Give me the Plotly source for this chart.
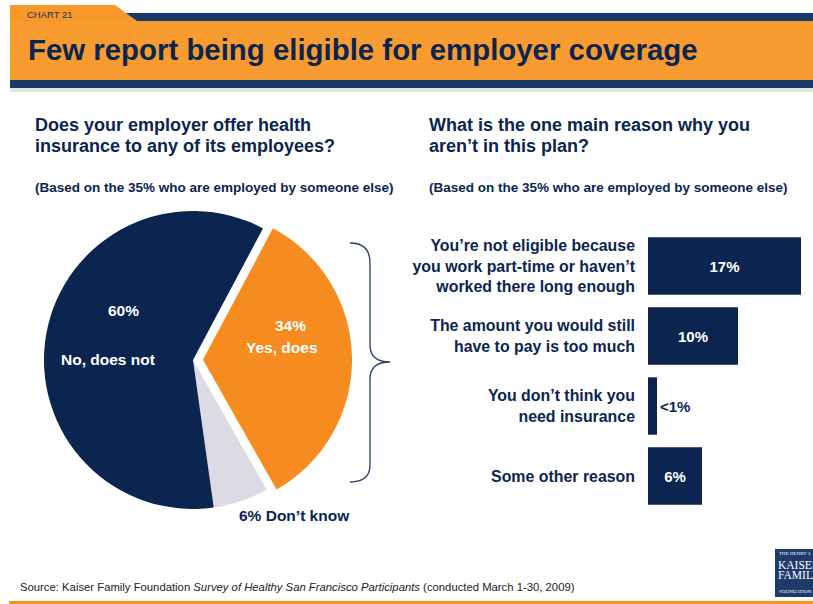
import plotly.graph_objects as go

W, H = 813, 604

# ---------------- data ----------------
pie_labels = ["Yes, does", "Don’t know", "No, does not"]
pie_values = [34, 6, 60]
pie_colors = ["#F68B1F", "#DCDBE3", "#0B2550"]

reason_labels = [
    "You’re not eligible because<br>you work part-time or haven’t<br>worked there long enough",
    "The amount you would still<br>have to pay is too much",
    "You don’t think you<br>need insurance",
    "Some other reason",
]
reason_values = [17, 10, 1, 6]
reason_text = ["17%", "10%", "&lt;1%", "6%"]

title = "Few report being eligible for employer coverage"
left_q = ["Does your employer offer health", "insurance to any of its employees?"]
right_q = ["What is the one main reason why you", "aren’t in this plan?"]
base_note = "(Based on the 35% who are employed by someone else)"
source = ("Source: Kaiser Family Foundation <i>Survey of Healthy San Francisco Participants</i> "
          "(conducted March 1-30, 2009)")

# ---------------- style ----------------
NAVY = "#0B2550"
HDR_NAVY = "#173B66"
ORANGE_BAND = "#F8982A"
FONT = "Liberation Sans, Arial, sans-serif"


def px(x):
    return x / W


def py(y):
    return 1 - y / H


def path(points_cmds):
    out = []
    for cmd, *pts in points_cmds:
        coords = " ".join(f"{px(pts[i]):.5f},{py(pts[i+1]):.5f}" for i in range(0, len(pts), 2))
        out.append(f"{cmd} {coords}")
    return " ".join(out)


fig = go.Figure()

# pie
fig.add_trace(go.Pie(
    labels=pie_labels, values=pie_values, sort=False, direction="clockwise",
    rotation=28, pull=[0.067, 0, 0],
    marker=dict(colors=pie_colors, line=dict(width=0)),
    textinfo="none", hoverinfo="label+percent", showlegend=False,
    domain=dict(x=[px(193 - 159), px(193 + 159)], y=[py(360 + 159), py(360 - 159)]),
))

# bars
fig.add_trace(go.Bar(
    x=reason_values, y=reason_labels, orientation="h",
    marker=dict(color=NAVY, line=dict(width=0)),
    width=0.82,
    text=reason_text, textposition=["inside", "inside", "outside", "inside"],
    insidetextanchor="middle", textangle=0, constraintext="none",
    insidetextfont=dict(family=FONT, size=15, color="white", weight="bold"),
    outsidetextfont=dict(family=FONT, size=15, color=NAVY, weight="bold"),
    cliponaxis=False, showlegend=False, hoverinfo="x+y",
))

shapes = []
# header: navy top strip, orange band with tab, navy bottom strip, shadow
shapes.append(dict(type="rect", xref="paper", yref="paper", x0=px(120), x1=px(813),
                   y0=py(21), y1=py(13), fillcolor=HDR_NAVY, line=dict(width=0), layer="below"))
shapes.append(dict(type="path", xref="paper", yref="paper",
                   path=path([("M", 10, 5), ("L", 115, 5), ("L", 137, 21), ("L", 813, 21),
                              ("L", 813, 80), ("L", 10, 80)]) + " Z",
                   fillcolor=ORANGE_BAND, line=dict(width=0), layer="below"))
for yy in range(23, 80, 3):
    shapes.append(dict(type="line", xref="paper", yref="paper", x0=px(10), x1=px(813),
                       y0=py(yy), y1=py(yy), line=dict(color="rgba(255,255,255,0.10)", width=1),
                       layer="below"))
shapes.append(dict(type="rect", xref="paper", yref="paper", x0=px(10), x1=px(813),
                   y0=py(88), y1=py(80), fillcolor=HDR_NAVY, line=dict(width=0), layer="below"))
shapes.append(dict(type="rect", xref="paper", yref="paper", x0=px(10), x1=px(813),
                   y0=py(92), y1=py(88), fillcolor="#E4E4E6", line=dict(width=0), layer="below"))
# bottom orange rule
shapes.append(dict(type="rect", xref="paper", yref="paper", x0=px(9), x1=px(813),
                   y0=py(604), y1=py(601), fillcolor="#F7941D", line=dict(width=0), layer="below"))
# logo block
shapes.append(dict(type="rect", xref="paper", yref="paper", x0=px(775), x1=px(813),
                   y0=py(597), y1=py(549), fillcolor="#1F3B6B", line=dict(width=0), layer="below"))
# brace
shapes.append(dict(type="path", xref="paper", yref="paper",
                   path=path([("M", 350, 243), ("Q", 370, 243, 370, 263), ("L", 370, 345),
                              ("Q", 370, 362, 390, 362), ("Q", 370, 362, 370, 379),
                              ("L", 370, 465), ("Q", 370, 482, 350, 482)]),
                   line=dict(color="#2B3F66", width=1.3)))

ann = []


def text(x, y, s, size, color=NAVY, bold=True, xanchor="left", family=FONT):
    ann.append(dict(x=px(x), y=py(y), xref="paper", yref="paper", text=s, showarrow=False,
                    xanchor=xanchor, yanchor="middle",
                    font=dict(family=family, size=size, color=color,
                              weight="bold" if bold else "normal")))


text(25, 14, "CHART 21", 9.5, color="#1F2F55", bold=False)
text(26, 50, title, 29.4)
text(33, 125, left_q[0], 18)
text(33, 145.5, left_q[1], 18)
text(33, 187, base_note, 13.5)
text(427, 125, right_q[0], 18)
text(427, 145.5, right_q[1], 18)
text(427, 187, base_note, 13.5)

# pie labels
text(123, 310, f"{pie_values[2]}%", 15.5, color="white", xanchor="center")
text(108, 359, pie_labels[2], 15.5, color="white", xanchor="center")
text(290, 325, f"{pie_values[0]}%", 15.5, color="white", xanchor="center")
text(282, 347, pie_labels[0], 15.5, color="white", xanchor="center")
text(294, 515, f"{pie_values[1]}% {pie_labels[1]}", 15.5, color=NAVY, xanchor="center")

# source
text(18, 587, source, 11.3, color="#222222", bold=False)

# logo text
SERIF = "Liberation Serif, DejaVu Serif, serif"
text(777, 553, "THE HENRY J.", 5, color="white", bold=False, family=SERIF)
text(776, 564.5, "KAISER", 11.5, color="white", bold=False, family=SERIF)
text(776, 575, "FAMILY", 11.5, color="white", bold=False, family=SERIF)
text(777, 591.5, "FOUNDATION", 5, color="white", bold=False, family=SERIF)

fig.update_layout(
    width=W, height=H, margin=dict(l=0, r=0, t=0, b=0),
    paper_bgcolor="white", plot_bgcolor="rgba(0,0,0,0)",
    shapes=shapes, annotations=ann,
    bargap=0.18,
    xaxis=dict(domain=[px(648), px(801)], range=[0, 17], visible=False, fixedrange=True),
    yaxis=dict(domain=[py(511), py(231)], categoryorder="array", categoryarray=reason_labels,
               range=[3.5, -0.5], showgrid=False, zeroline=False, showline=False, ticks="",
               ticklabelstandoff=12,
               tickfont=dict(family=FONT, size=15.9, color=NAVY, weight="bold"), fixedrange=True),
    font=dict(family=FONT),
)

fig.write_html("out.html", config={"displayModeBar": False},
               post_script="document.body.style.margin='0';")
